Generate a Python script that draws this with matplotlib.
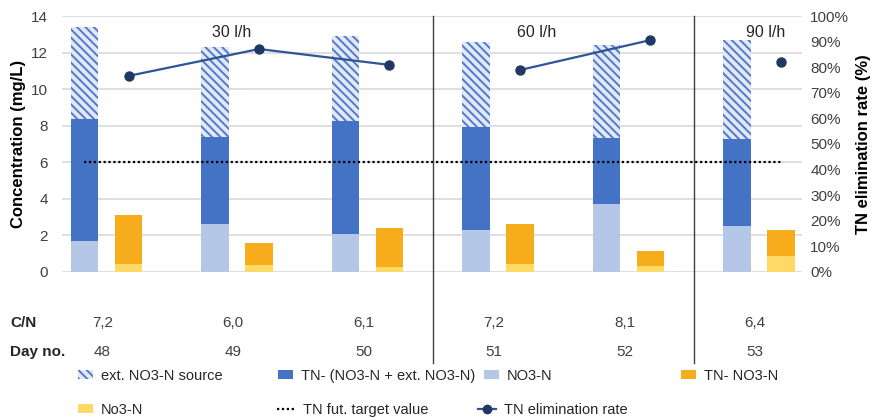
import matplotlib
matplotlib.use("Agg")
import matplotlib.pyplot as plt
import matplotlib.transforms as mtransforms
from matplotlib.patches import Patch
from matplotlib.lines import Line2D
import numpy as np

plt.rcParams['font.family'] = ['Liberation Sans', 'DejaVu Sans']

days = ["48", "49", "50", "51", "52", "53"]
cn_ratio = ["7,2", "6,0", "6,1", "7,2", "8,1", "6,4"]
flow_labels = ["30 l/h", "60 l/h", "90 l/h"]
flow_label_pos = [0.96, 3.3, 5.05]

# left stack (mg/L)
no3_in = [1.71, 2.62, 2.06, 2.30, 3.70, 2.53]
tn_minus = [6.66, 4.78, 6.21, 5.65, 3.64, 4.72]
ext_no3 = [5.01, 4.92, 4.65, 4.61, 5.07, 5.43]
# right stack (mg/L)
no3_out = [0.41, 0.37, 0.28, 0.41, 0.32, 0.90]
tn_no3_out = [2.68, 1.19, 2.15, 2.24, 0.82, 1.39]
# elimination rate (%), gaps between flow regimes
elim_rate = [76.6, 87.1, 80.9, np.nan, np.nan, np.nan]
elim_rate2 = [np.nan, np.nan, np.nan, 78.9, 90.6, np.nan]
elim_rate3 = [np.nan, np.nan, np.nan, np.nan, np.nan, 82.0]
target_value = 6.0

c_dark = "#4472C4"
c_light = "#B4C7E7"
c_orange = "#F7AC1C"
c_yellow = "#FFD966"
c_hatch = "#5479CC"
c_hatch_bg = "#E1E8F6"
c_line = "#2F5597"
c_marker = "#1F3864"

fig = plt.figure(figsize=(8.74, 4.2), dpi=100)
ax = fig.add_axes([0.0709, 0.3524, 0.8467, 0.6095])
ax2 = ax.twinx()

x = np.arange(len(days))
off = 0.169
w = 0.21
xl = x - off
xr = x + off

plt.rcParams['hatch.linewidth'] = 1.4
ax.bar(xl, no3_in, w, color=c_light, zorder=2)
ax.bar(xl, tn_minus, w, bottom=no3_in, color=c_dark, zorder=2)
bot2 = np.array(no3_in) + np.array(tn_minus)
ax.bar(xl, ext_no3, w, bottom=bot2, color=c_hatch_bg, edgecolor=c_hatch,
       hatch="\\\\\\\\", linewidth=0, zorder=2)
ax.bar(xr, no3_out, w, color=c_yellow, zorder=2)
ax.bar(xr, tn_no3_out, w, bottom=no3_out, color=c_orange, zorder=2)

ax.plot([xl[0], xr[-1]], [target_value, target_value], color="black",
        linestyle=(0, (1, 1.2)), linewidth=1.6, zorder=3)

for s in (elim_rate, elim_rate2, elim_rate3):
    ax2.plot(xr, s, color=c_line, linewidth=1.6, marker="o", markersize=6.5,
             markerfacecolor=c_marker, markeredgecolor=c_marker, zorder=4)

ax.set_xlim(-0.341, 5.33)
ax.set_ylim(0, 14)
ax2.set_ylim(0, 100)
ax.set_yticks(np.arange(0, 15, 2))
ax2.set_yticks(np.arange(0, 101, 10))
ax2.set_yticklabels([f"{v}%" for v in range(0, 101, 10)])
ax.set_xticks([])
ax.yaxis.grid(True, color="#D9D9D9", linewidth=1.2, zorder=0)
ax.set_axisbelow(True)
for a in (ax, ax2):
    for sp in a.spines.values():
        sp.set_visible(False)
    a.tick_params(length=0, labelsize=11, colors="#404040")
ax.tick_params(axis="y", pad=10)
ax2.tick_params(axis="y", pad=6)
ax.set_ylabel("Concentration (mg/L)", fontsize=12, fontweight="bold", labelpad=4)
ax2.set_ylabel("TN elimination rate (%)", fontsize=12, fontweight="bold", labelpad=5)

trans = mtransforms.blended_transform_factory(ax.transData, ax.transAxes)
for sx in (2.5, 4.5):
    ax.plot([sx, sx], [1.0, -0.355], color="#404040", linewidth=1.0,
            transform=trans, clip_on=False, zorder=5)

for lbl, px in zip(flow_labels, flow_label_pos):
    ax.text(px, 0.935, lbl, transform=trans, ha="center", va="center",
            fontsize=11.5, color="#262626")

# C/N and day rows
y_cn = -0.2
y_day = -0.312
fig.text(10 / 874, 1 - 323 / 420, "C/N", fontsize=11, fontweight="bold",
         va="center", color="#262626")
fig.text(10 / 874, 1 - 352 / 420, "Day no.", fontsize=11, fontweight="bold",
         va="center", color="#262626")
for i in range(len(days)):
    ax.text(x[i] - 0.03, y_cn, cn_ratio[i], transform=trans, ha="center",
            va="center", fontsize=11, color="#404040")
    ax.text(x[i] - 0.03, y_day, days[i], transform=trans, ha="center",
            va="center", fontsize=11, color="#404040")

# legend entries
entries = [
    (Patch(facecolor=c_hatch_bg, edgecolor=c_hatch, hatch="\\\\\\\\", linewidth=0),
     "ext. NO3-N source", 78, 376),
    (Patch(facecolor=c_dark), "TN- (NO3-N + ext. NO3-N)", 278, 376),
    (Patch(facecolor=c_light), "NO3-N", 484, 376),
    (Patch(facecolor=c_orange), "TN- NO3-N", 681, 376),
    (Patch(facecolor=c_yellow), "No3-N", 78, 410),
    (Line2D([], [], color="black", linestyle=(0, (1, 1.2)), linewidth=1.6),
     "TN fut. target value", 277, 410),
    (Line2D([], [], color=c_line, linewidth=1.6, marker="o", markersize=6,
            markerfacecolor=c_marker, markeredgecolor=c_marker),
     "TN elimination rate", 478, 410),
]
for h, lbl, px, py in entries:
    is_line = isinstance(h, Line2D)
    fig.legend(handles=[h], labels=[lbl], loc="center left",
               bbox_to_anchor=(px / 874, 1 - py / 420), frameon=False,
               fontsize=10.5, handlelength=1.25 if is_line else 1.05,
               handleheight=0.6, handletextpad=0.5, borderpad=0,
               borderaxespad=0, labelcolor="#262626")

fig.savefig("out.png", dpi=100)
